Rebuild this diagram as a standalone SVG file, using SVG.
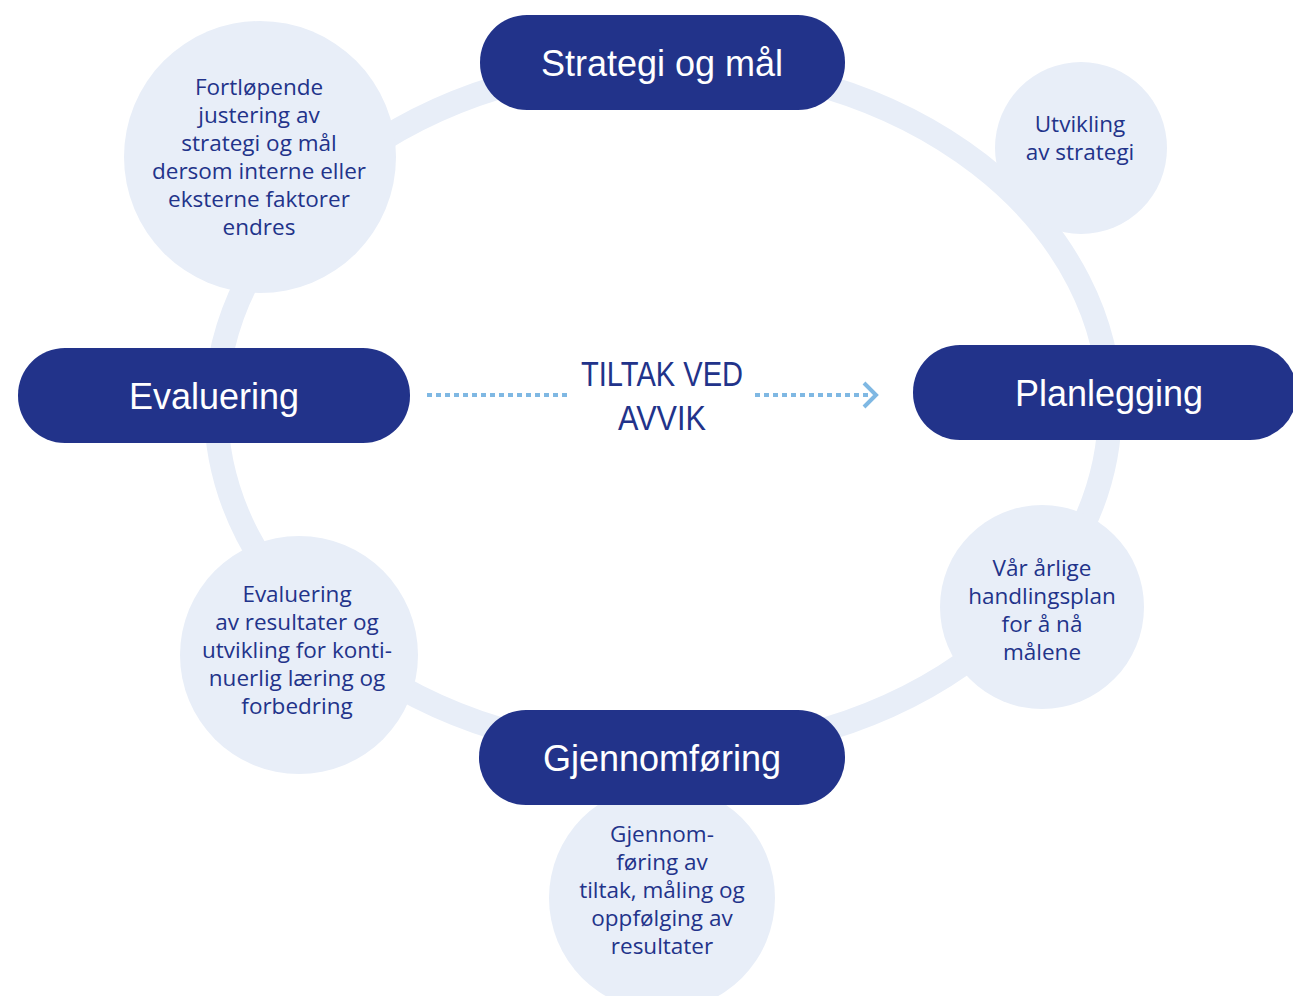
<svg xmlns="http://www.w3.org/2000/svg" width="1293" height="996" viewBox="0 0 1293 996">
<defs>
<style>
.ring{fill:none;stroke:#E8EEF8;stroke-width:24}
.bub{fill:#E8EEF8}
.pill{fill:#22338A}
.pt{fill:#FFFFFF;font-family:"Liberation Sans",Arial,sans-serif;font-size:36px;text-anchor:middle}
.bt{fill:#22338A;font-family:"Open Sans","Liberation Sans",sans-serif;font-size:22.5px;text-anchor:middle}
.ct{fill:#22338A;font-family:"Liberation Sans",Arial,sans-serif;font-size:35px;text-anchor:middle}
.dot{fill:none;stroke:#7FB8E3;stroke-width:4;stroke-dasharray:5 4}
.chev{fill:none;stroke:#7FB8E3;stroke-width:4}
</style>
</defs>
<rect width="1293" height="996" fill="#FFFFFF"/>
<g id="cycle-ring">
<ellipse class="ring" cx="663" cy="408" rx="447" ry="345"/>
</g>
<g id="bubble-justering">
<circle class="bub" cx="260" cy="157" r="136"/>
<text class="bt" x="259" y="95">Fortløpende</text>
<text class="bt" x="259" y="123">justering av</text>
<text class="bt" x="259" y="151">strategi og mål</text>
<text class="bt" x="259" y="179">dersom interne eller</text>
<text class="bt" x="259" y="207">eksterne faktorer</text>
<text class="bt" x="259" y="235">endres</text>
</g>
<g id="bubble-utvikling">
<circle class="bub" cx="1081" cy="148" r="86"/>
<text class="bt" x="1080" y="132">Utvikling</text>
<text class="bt" x="1080" y="160">av strategi</text>
</g>
<g id="bubble-handlingsplan">
<circle class="bub" cx="1042" cy="607" r="102"/>
<text class="bt" x="1042" y="576">Vår årlige</text>
<text class="bt" x="1042" y="604">handlingsplan</text>
<text class="bt" x="1042" y="632">for å nå</text>
<text class="bt" x="1042" y="660">målene</text>
</g>
<g id="bubble-evaluering">
<circle class="bub" cx="299" cy="655" r="119"/>
<text class="bt" x="297" y="602">Evaluering</text>
<text class="bt" x="297" y="630">av resultater og</text>
<text class="bt" x="297" y="658">utvikling for konti-</text>
<text class="bt" x="297" y="686">nuerlig læring og</text>
<text class="bt" x="297" y="714">forbedring</text>
</g>
<g id="bubble-gjennomforing">
<circle class="bub" cx="662" cy="898" r="113"/>
<text class="bt" x="662" y="842">Gjennom-</text>
<text class="bt" x="662" y="870">føring av</text>
<text class="bt" x="662" y="898">tiltak, måling og</text>
<text class="bt" x="662" y="926">oppfølging av</text>
<text class="bt" x="662" y="954">resultater</text>
</g>
<g id="node-strategi">
<rect class="pill" x="480" y="15" width="365" height="95" rx="47"/>
<text class="pt" x="662" y="76">Strategi og mål</text>
</g>
<g id="node-planlegging">
<rect class="pill" x="913" y="345" width="384" height="95" rx="47"/>
<text class="pt" x="1109" y="406">Planlegging</text>
</g>
<g id="node-gjennomforing">
<rect class="pill" x="479" y="710" width="366" height="95" rx="47"/>
<text class="pt" x="662" y="771">Gjennomføring</text>
</g>
<g id="node-evaluering">
<rect class="pill" x="18" y="348" width="392" height="95" rx="47"/>
<text class="pt" x="214" y="409">Evaluering</text>
</g>
<g id="center-label">
<text class="ct" x="662" y="386" textLength="162" lengthAdjust="spacingAndGlyphs">TILTAK VED</text>
<text class="ct" x="662" y="430" textLength="88" lengthAdjust="spacingAndGlyphs">AVVIK</text>
</g>
<g id="connectors">
<line class="dot" x1="427" y1="395" x2="570" y2="395"/>
<line class="dot" x1="755" y1="395" x2="872" y2="395"/>
<polyline class="chev" points="864,383 876,395 864,407"/>
</g>
</svg>
